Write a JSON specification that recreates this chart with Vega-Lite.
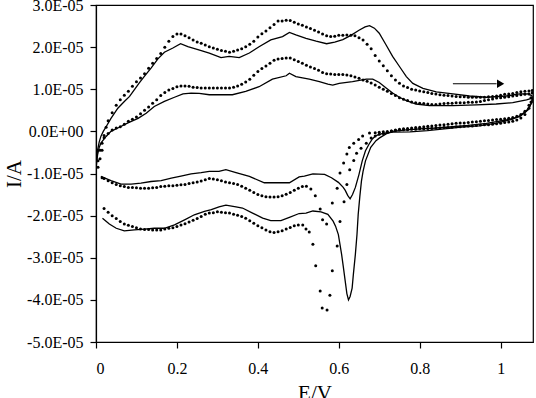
{
  "$schema": "https://vega.github.io/schema/vega-lite/v6.json",
  "autosize": {"type": "none"},
  "padding": {"left": 96, "top": 5, "right": 3, "bottom": 56},
  "width": 437,
  "height": 337,
  "config": {
    "view": {"stroke": "black", "strokeWidth": 1.2},
    "font": "Liberation Serif",
    "axis": {"grid": false, "domainColor": "black", "tickColor": "black", "labelColor": "black", "titleColor": "black", "labelFont": "Liberation Serif", "titleFont": "Liberation Serif", "labelFontSize": 16, "titleFontSize": 21, "titleFontWeight": "normal", "tickSize": 6, "domainWidth": 1.2, "tickWidth": 1.2}
  },
  "datasets": {
    "solid": [
      {"c":"S1","E":0.000,"I":-0.80e-5},{"c":"S1","E":0.002,"I":-0.60e-5},{"c":"S1","E":0.004,"I":-0.44e-5},{"c":"S1","E":0.008,"I":-0.25e-5},{"c":"S1","E":0.012,"I":-0.12e-5},{"c":"S1","E":0.018,"I":0.00e-5},{"c":"S1","E":0.025,"I":0.11e-5},{"c":"S1","E":0.037,"I":0.31e-5},{"c":"S1","E":0.054,"I":0.55e-5},{"c":"S1","E":0.070,"I":0.71e-5},{"c":"S1","E":0.083,"I":0.83e-5},{"c":"S1","E":0.095,"I":0.99e-5},{"c":"S1","E":0.107,"I":1.15e-5},{"c":"S1","E":0.119,"I":1.30e-5},{"c":"S1","E":0.136,"I":1.50e-5},{"c":"S1","E":0.153,"I":1.72e-5},{"c":"S1","E":0.169,"I":1.88e-5},{"c":"S1","E":0.190,"I":1.98e-5},{"c":"S1","E":0.209,"I":2.08e-5},{"c":"S1","E":0.227,"I":2.01e-5},{"c":"S1","E":0.252,"I":1.94e-5},{"c":"S1","E":0.280,"I":1.86e-5},{"c":"S1","E":0.309,"I":1.75e-5},{"c":"S1","E":0.329,"I":1.78e-5},{"c":"S1","E":0.354,"I":1.75e-5},{"c":"S1","E":0.379,"I":1.86e-5},{"c":"S1","E":0.403,"I":2.01e-5},{"c":"S1","E":0.432,"I":2.17e-5},{"c":"S1","E":0.461,"I":2.25e-5},{"c":"S1","E":0.478,"I":2.35e-5},{"c":"S1","E":0.494,"I":2.29e-5},{"c":"S1","E":0.519,"I":2.21e-5},{"c":"S1","E":0.544,"I":2.14e-5},{"c":"S1","E":0.570,"I":2.08e-5},{"c":"S1","E":0.590,"I":2.12e-5},{"c":"S1","E":0.610,"I":2.18e-5},{"c":"S1","E":0.630,"I":2.28e-5},{"c":"S1","E":0.650,"I":2.40e-5},{"c":"S1","E":0.665,"I":2.48e-5},{"c":"S1","E":0.676,"I":2.51e-5},{"c":"S1","E":0.688,"I":2.45e-5},{"c":"S1","E":0.700,"I":2.33e-5},{"c":"S1","E":0.717,"I":2.05e-5},{"c":"S1","E":0.733,"I":1.78e-5},{"c":"S1","E":0.750,"I":1.54e-5},{"c":"S1","E":0.767,"I":1.30e-5},{"c":"S1","E":0.783,"I":1.14e-5},{"c":"S1","E":0.808,"I":1.02e-5},{"c":"S1","E":0.841,"I":0.94e-5},{"c":"S1","E":0.882,"I":0.89e-5},{"c":"S1","E":0.923,"I":0.84e-5},{"c":"S1","E":0.965,"I":0.81e-5},{"c":"S1","E":1.014,"I":0.84e-5},{"c":"S1","E":1.047,"I":0.89e-5},{"c":"S1","E":1.068,"I":0.89e-5},{"c":"S1","E":1.078,"I":0.84e-5},
      {"c":"S1","E":1.078,"I":0.75e-5},{"c":"S1","E":1.072,"I":0.58e-5},{"c":"S1","E":1.068,"I":0.51e-5},{"c":"S1","E":1.047,"I":0.35e-5},{"c":"S1","E":1.014,"I":0.27e-5},{"c":"S1","E":0.965,"I":0.19e-5},{"c":"S1","E":0.920,"I":0.14e-5},{"c":"S1","E":0.882,"I":0.11e-5},{"c":"S1","E":0.840,"I":0.08e-5},{"c":"S1","E":0.800,"I":0.06e-5},{"c":"S1","E":0.760,"I":0.03e-5},{"c":"S1","E":0.733,"I":0.00e-5},{"c":"S1","E":0.717,"I":-0.06e-5},{"c":"S1","E":0.700,"I":-0.16e-5},{"c":"S1","E":0.692,"I":-0.22e-5},{"c":"S1","E":0.679,"I":-0.38e-5},{"c":"S1","E":0.666,"I":-0.70e-5},{"c":"S1","E":0.660,"I":-0.95e-5},{"c":"S1","E":0.656,"I":-1.18e-5},{"c":"S1","E":0.652,"I":-1.55e-5},{"c":"S1","E":0.648,"I":-1.97e-5},{"c":"S1","E":0.645,"I":-2.45e-5},{"c":"S1","E":0.641,"I":-2.92e-5},{"c":"S1","E":0.636,"I":-3.40e-5},{"c":"S1","E":0.633,"I":-3.72e-5},{"c":"S1","E":0.628,"I":-3.92e-5},{"c":"S1","E":0.624,"I":-4.00e-5},{"c":"S1","E":0.620,"I":-3.85e-5},{"c":"S1","E":0.616,"I":-3.56e-5},{"c":"S1","E":0.611,"I":-3.20e-5},{"c":"S1","E":0.607,"I":-2.92e-5},{"c":"S1","E":0.599,"I":-2.45e-5},{"c":"S1","E":0.592,"I":-2.25e-5},{"c":"S1","E":0.586,"I":-2.13e-5},{"c":"S1","E":0.573,"I":-1.97e-5},{"c":"S1","E":0.556,"I":-1.91e-5},{"c":"S1","E":0.536,"I":-1.89e-5},{"c":"S1","E":0.519,"I":-1.94e-5},{"c":"S1","E":0.502,"I":-1.95e-5},{"c":"S1","E":0.478,"I":-2.04e-5},{"c":"S1","E":0.457,"I":-2.12e-5},{"c":"S1","E":0.432,"I":-2.12e-5},{"c":"S1","E":0.412,"I":-2.06e-5},{"c":"S1","E":0.387,"I":-1.94e-5},{"c":"S1","E":0.362,"I":-1.82e-5},{"c":"S1","E":0.346,"I":-1.79e-5},{"c":"S1","E":0.321,"I":-1.75e-5},{"c":"S1","E":0.304,"I":-1.79e-5},{"c":"S1","E":0.285,"I":-1.86e-5},{"c":"S1","E":0.268,"I":-1.90e-5},{"c":"S1","E":0.243,"I":-1.98e-5},{"c":"S1","E":0.219,"I":-2.10e-5},{"c":"S1","E":0.194,"I":-2.22e-5},{"c":"S1","E":0.169,"I":-2.30e-5},{"c":"S1","E":0.144,"I":-2.30e-5},{"c":"S1","E":0.120,"I":-2.32e-5},{"c":"S1","E":0.095,"I":-2.34e-5},{"c":"S1","E":0.070,"I":-2.36e-5},{"c":"S1","E":0.050,"I":-2.30e-5},{"c":"S1","E":0.033,"I":-2.20e-5},{"c":"S1","E":0.016,"I":-2.06e-5},
      {"c":"S2","E":0.000,"I":-0.90e-5},{"c":"S2","E":0.004,"I":-0.55e-5},{"c":"S2","E":0.008,"I":-0.38e-5},{"c":"S2","E":0.012,"I":-0.28e-5},{"c":"S2","E":0.025,"I":-0.12e-5},{"c":"S2","E":0.037,"I":0.00e-5},{"c":"S2","E":0.054,"I":0.08e-5},{"c":"S2","E":0.079,"I":0.20e-5},{"c":"S2","E":0.104,"I":0.31e-5},{"c":"S2","E":0.124,"I":0.43e-5},{"c":"S2","E":0.144,"I":0.59e-5},{"c":"S2","E":0.169,"I":0.71e-5},{"c":"S2","E":0.194,"I":0.81e-5},{"c":"S2","E":0.215,"I":0.89e-5},{"c":"S2","E":0.235,"I":0.91e-5},{"c":"S2","E":0.255,"I":0.90e-5},{"c":"S2","E":0.280,"I":0.87e-5},{"c":"S2","E":0.337,"I":0.87e-5},{"c":"S2","E":0.370,"I":0.95e-5},{"c":"S2","E":0.403,"I":1.06e-5},{"c":"S2","E":0.436,"I":1.24e-5},{"c":"S2","E":0.470,"I":1.32e-5},{"c":"S2","E":0.478,"I":1.38e-5},{"c":"S2","E":0.494,"I":1.30e-5},{"c":"S2","E":0.527,"I":1.24e-5},{"c":"S2","E":0.552,"I":1.18e-5},{"c":"S2","E":0.573,"I":1.12e-5},{"c":"S2","E":0.585,"I":1.10e-5},{"c":"S2","E":0.601,"I":1.14e-5},{"c":"S2","E":0.634,"I":1.18e-5},{"c":"S2","E":0.668,"I":1.24e-5},{"c":"S2","E":0.684,"I":1.24e-5},{"c":"S2","E":0.700,"I":1.16e-5},{"c":"S2","E":0.717,"I":1.03e-5},{"c":"S2","E":0.733,"I":0.91e-5},{"c":"S2","E":0.750,"I":0.81e-5},{"c":"S2","E":0.767,"I":0.73e-5},{"c":"S2","E":0.791,"I":0.65e-5},{"c":"S2","E":0.824,"I":0.61e-5},{"c":"S2","E":0.882,"I":0.61e-5},{"c":"S2","E":0.940,"I":0.63e-5},{"c":"S2","E":0.989,"I":0.65e-5},{"c":"S2","E":1.030,"I":0.68e-5},{"c":"S2","E":1.064,"I":0.75e-5},{"c":"S2","E":1.078,"I":0.79e-5},
      {"c":"S2","E":1.078,"I":0.69e-5},{"c":"S2","E":1.064,"I":0.49e-5},{"c":"S2","E":1.047,"I":0.37e-5},{"c":"S2","E":1.030,"I":0.29e-5},{"c":"S2","E":0.988,"I":0.19e-5},{"c":"S2","E":0.946,"I":0.13e-5},{"c":"S2","E":0.903,"I":0.10e-5},{"c":"S2","E":0.861,"I":0.06e-5},{"c":"S2","E":0.819,"I":0.02e-5},{"c":"S2","E":0.776,"I":-0.01e-5},{"c":"S2","E":0.734,"I":-0.02e-5},{"c":"S2","E":0.709,"I":-0.05e-5},{"c":"S2","E":0.692,"I":-0.10e-5},{"c":"S2","E":0.683,"I":-0.18e-5},{"c":"S2","E":0.675,"I":-0.30e-5},{"c":"S2","E":0.666,"I":-0.46e-5},{"c":"S2","E":0.658,"I":-0.70e-5},{"c":"S2","E":0.650,"I":-1.02e-5},{"c":"S2","E":0.641,"I":-1.33e-5},{"c":"S2","E":0.634,"I":-1.50e-5},{"c":"S2","E":0.628,"I":-1.60e-5},{"c":"S2","E":0.622,"I":-1.52e-5},{"c":"S2","E":0.616,"I":-1.40e-5},{"c":"S2","E":0.611,"I":-1.33e-5},{"c":"S2","E":0.599,"I":-1.21e-5},{"c":"S2","E":0.582,"I":-1.10e-5},{"c":"S2","E":0.565,"I":-1.02e-5},{"c":"S2","E":0.536,"I":-1.01e-5},{"c":"S2","E":0.515,"I":-1.06e-5},{"c":"S2","E":0.502,"I":-1.08e-5},{"c":"S2","E":0.478,"I":-1.22e-5},{"c":"S2","E":0.440,"I":-1.22e-5},{"c":"S2","E":0.416,"I":-1.22e-5},{"c":"S2","E":0.379,"I":-1.07e-5},{"c":"S2","E":0.346,"I":-0.98e-5},{"c":"S2","E":0.321,"I":-0.91e-5},{"c":"S2","E":0.304,"I":-0.95e-5},{"c":"S2","E":0.280,"I":-0.95e-5},{"c":"S2","E":0.260,"I":-0.98e-5},{"c":"S2","E":0.235,"I":-1.01e-5},{"c":"S2","E":0.210,"I":-1.06e-5},{"c":"S2","E":0.186,"I":-1.11e-5},{"c":"S2","E":0.161,"I":-1.17e-5},{"c":"S2","E":0.136,"I":-1.19e-5},{"c":"S2","E":0.111,"I":-1.23e-5},{"c":"S2","E":0.087,"I":-1.25e-5},{"c":"S2","E":0.062,"I":-1.25e-5},{"c":"S2","E":0.037,"I":-1.17e-5},{"c":"S2","E":0.012,"I":-1.07e-5}
    ],
    "dotted": [
      {"E":0.005,"I":-0.85e-5},{"E":0.010,"I":-0.65e-5},{"E":0.015,"I":-0.45e-5},{"E":0.020,"I":-0.10e-5},{"E":0.025,"I":0.10e-5},{"E":0.030,"I":0.25e-5},{"E":0.040,"I":0.44e-5},{"E":0.050,"I":0.62e-5},{"E":0.060,"I":0.75e-5},{"E":0.070,"I":0.86e-5},{"E":0.080,"I":0.95e-5},{"E":0.090,"I":1.07e-5},{"E":0.100,"I":1.18e-5},{"E":0.110,"I":1.27e-5},{"E":0.120,"I":1.37e-5},{"E":0.130,"I":1.50e-5},{"E":0.140,"I":1.62e-5},{"E":0.150,"I":1.73e-5},{"E":0.160,"I":1.85e-5},{"E":0.170,"I":2.00e-5},{"E":0.180,"I":2.14e-5},{"E":0.190,"I":2.25e-5},{"E":0.200,"I":2.31e-5},{"E":0.210,"I":2.31e-5},{"E":0.220,"I":2.27e-5},{"E":0.230,"I":2.22e-5},{"E":0.240,"I":2.17e-5},{"E":0.250,"I":2.12e-5},{"E":0.260,"I":2.09e-5},{"E":0.270,"I":2.05e-5},{"E":0.280,"I":2.01e-5},{"E":0.290,"I":1.98e-5},{"E":0.300,"I":1.95e-5},{"E":0.310,"I":1.92e-5},{"E":0.320,"I":1.90e-5},{"E":0.330,"I":1.88e-5},{"E":0.340,"I":1.90e-5},{"E":0.350,"I":1.93e-5},{"E":0.360,"I":1.96e-5},{"E":0.370,"I":2.01e-5},{"E":0.380,"I":2.07e-5},{"E":0.390,"I":2.14e-5},{"E":0.400,"I":2.24e-5},{"E":0.410,"I":2.32e-5},{"E":0.420,"I":2.38e-5},{"E":0.430,"I":2.46e-5},{"E":0.440,"I":2.54e-5},{"E":0.450,"I":2.62e-5},{"E":0.460,"I":2.62e-5},{"E":0.470,"I":2.64e-5},{"E":0.480,"I":2.63e-5},{"E":0.490,"I":2.59e-5},{"E":0.500,"I":2.55e-5},{"E":0.510,"I":2.52e-5},{"E":0.520,"I":2.48e-5},{"E":0.530,"I":2.44e-5},{"E":0.540,"I":2.40e-5},{"E":0.550,"I":2.36e-5},{"E":0.560,"I":2.31e-5},{"E":0.570,"I":2.27e-5},{"E":0.580,"I":2.25e-5},{"E":0.590,"I":2.26e-5},{"E":0.600,"I":2.28e-5},{"E":0.610,"I":2.28e-5},{"E":0.620,"I":2.29e-5},{"E":0.630,"I":2.28e-5},{"E":0.640,"I":2.27e-5},{"E":0.650,"I":2.22e-5},{"E":0.660,"I":2.17e-5},{"E":0.670,"I":2.07e-5},{"E":0.680,"I":1.96e-5},{"E":0.690,"I":1.80e-5},{"E":0.700,"I":1.67e-5},{"E":0.710,"I":1.56e-5},{"E":0.720,"I":1.44e-5},{"E":0.730,"I":1.32e-5},{"E":0.740,"I":1.22e-5},{"E":0.750,"I":1.14e-5},{"E":0.760,"I":1.08e-5},{"E":0.770,"I":1.04e-5},{"E":0.780,"I":1.00e-5},{"E":0.790,"I":0.98e-5},{"E":0.800,"I":0.96e-5},{"E":0.810,"I":0.94e-5},{"E":0.820,"I":0.92e-5},{"E":0.830,"I":0.90e-5},{"E":0.840,"I":0.89e-5},{"E":0.850,"I":0.87e-5},{"E":0.860,"I":0.86e-5},{"E":0.870,"I":0.85e-5},{"E":0.880,"I":0.84e-5},{"E":0.890,"I":0.83e-5},{"E":0.900,"I":0.82e-5},{"E":0.910,"I":0.82e-5},{"E":0.920,"I":0.81e-5},{"E":0.930,"I":0.81e-5},{"E":0.940,"I":0.81e-5},{"E":0.950,"I":0.81e-5},{"E":0.960,"I":0.81e-5},{"E":0.970,"I":0.82e-5},{"E":0.980,"I":0.83e-5},{"E":0.990,"I":0.84e-5},{"E":1.000,"I":0.86e-5},{"E":1.010,"I":0.88e-5},{"E":1.020,"I":0.89e-5},{"E":1.030,"I":0.90e-5},{"E":1.040,"I":0.92e-5},{"E":1.050,"I":0.94e-5},{"E":1.060,"I":0.95e-5},{"E":1.070,"I":0.96e-5},{"E":1.078,"I":0.97e-5},
      {"E":1.075,"I":0.80e-5},{"E":1.070,"I":0.62e-5},{"E":1.060,"I":0.48e-5},{"E":1.050,"I":0.40e-5},{"E":1.040,"I":0.36e-5},{"E":1.030,"I":0.33e-5},{"E":1.020,"I":0.31e-5},{"E":1.010,"I":0.30e-5},{"E":1.000,"I":0.29e-5},{"E":0.990,"I":0.28e-5},{"E":0.980,"I":0.27e-5},{"E":0.970,"I":0.26e-5},{"E":0.960,"I":0.25e-5},{"E":0.950,"I":0.24e-5},{"E":0.940,"I":0.23e-5},{"E":0.930,"I":0.22e-5},{"E":0.920,"I":0.21e-5},{"E":0.910,"I":0.20e-5},{"E":0.900,"I":0.20e-5},{"E":0.890,"I":0.19e-5},{"E":0.880,"I":0.18e-5},{"E":0.870,"I":0.17e-5},{"E":0.860,"I":0.16e-5},{"E":0.850,"I":0.15e-5},{"E":0.840,"I":0.14e-5},{"E":0.830,"I":0.13e-5},{"E":0.820,"I":0.12e-5},{"E":0.810,"I":0.11e-5},{"E":0.800,"I":0.10e-5},{"E":0.790,"I":0.09e-5},{"E":0.780,"I":0.08e-5},{"E":0.770,"I":0.07e-5},{"E":0.760,"I":0.06e-5},{"E":0.750,"I":0.05e-5},{"E":0.740,"I":0.03e-5},{"E":0.730,"I":0.01e-5},{"E":0.720,"I":-0.02e-5},{"E":0.710,"I":-0.05e-5},{"E":0.700,"I":-0.07e-5},{"E":0.690,"I":-0.11e-5},{"E":0.680,"I":-0.16e-5},{"E":0.668,"I":-0.28e-5},{"E":0.655,"I":-0.40e-5},{"E":0.644,"I":-0.52e-5},{"E":0.637,"I":-0.69e-5},{"E":0.627,"I":-0.91e-5},{"E":0.620,"I":-1.26e-5},{"E":0.613,"I":-1.67e-5},{"E":0.603,"I":-2.14e-5},{"E":0.596,"I":-2.72e-5},{"E":0.584,"I":-3.31e-5},{"E":0.578,"I":-3.89e-5},{"E":0.571,"I":-4.24e-5},{"E":0.559,"I":-4.19e-5},{"E":0.554,"I":-3.79e-5},{"E":0.543,"I":-3.19e-5},{"E":0.536,"I":-2.68e-5},{"E":0.527,"I":-2.39e-5},{"E":0.519,"I":-2.32e-5},{"E":0.511,"I":-2.22e-5},{"E":0.500,"I":-2.22e-5},{"E":0.490,"I":-2.24e-5},{"E":0.480,"I":-2.28e-5},{"E":0.470,"I":-2.32e-5},{"E":0.460,"I":-2.36e-5},{"E":0.450,"I":-2.38e-5},{"E":0.440,"I":-2.40e-5},{"E":0.430,"I":-2.38e-5},{"E":0.420,"I":-2.34e-5},{"E":0.410,"I":-2.29e-5},{"E":0.400,"I":-2.24e-5},{"E":0.390,"I":-2.18e-5},{"E":0.380,"I":-2.12e-5},{"E":0.370,"I":-2.06e-5},{"E":0.360,"I":-2.02e-5},{"E":0.350,"I":-1.99e-5},{"E":0.340,"I":-1.97e-5},{"E":0.330,"I":-1.94e-5},{"E":0.320,"I":-1.93e-5},{"E":0.310,"I":-1.92e-5},{"E":0.300,"I":-1.91e-5},{"E":0.290,"I":-1.93e-5},{"E":0.280,"I":-1.94e-5},{"E":0.270,"I":-1.97e-5},{"E":0.260,"I":-2.02e-5},{"E":0.250,"I":-2.07e-5},{"E":0.240,"I":-2.11e-5},{"E":0.230,"I":-2.15e-5},{"E":0.220,"I":-2.19e-5},{"E":0.210,"I":-2.22e-5},{"E":0.200,"I":-2.26e-5},{"E":0.190,"I":-2.29e-5},{"E":0.180,"I":-2.30e-5},{"E":0.170,"I":-2.32e-5},{"E":0.160,"I":-2.34e-5},{"E":0.150,"I":-2.34e-5},{"E":0.140,"I":-2.34e-5},{"E":0.130,"I":-2.33e-5},{"E":0.120,"I":-2.33e-5},{"E":0.110,"I":-2.32e-5},{"E":0.100,"I":-2.29e-5},{"E":0.090,"I":-2.26e-5},{"E":0.080,"I":-2.23e-5},{"E":0.070,"I":-2.20e-5},{"E":0.060,"I":-2.14e-5},{"E":0.050,"I":-2.07e-5},{"E":0.040,"I":-2.00e-5},{"E":0.030,"I":-1.92e-5},{"E":0.020,"I":-1.83e-5},
      {"E":0.005,"I":-0.70e-5},{"E":0.010,"I":-0.45e-5},{"E":0.015,"I":-0.28e-5},{"E":0.020,"I":-0.15e-5},{"E":0.030,"I":-0.05e-5},{"E":0.040,"I":0.03e-5},{"E":0.050,"I":0.08e-5},{"E":0.060,"I":0.11e-5},{"E":0.070,"I":0.17e-5},{"E":0.080,"I":0.24e-5},{"E":0.090,"I":0.29e-5},{"E":0.100,"I":0.34e-5},{"E":0.110,"I":0.42e-5},{"E":0.120,"I":0.50e-5},{"E":0.130,"I":0.58e-5},{"E":0.140,"I":0.67e-5},{"E":0.150,"I":0.75e-5},{"E":0.160,"I":0.85e-5},{"E":0.170,"I":0.92e-5},{"E":0.180,"I":0.98e-5},{"E":0.190,"I":1.02e-5},{"E":0.200,"I":1.06e-5},{"E":0.210,"I":1.08e-5},{"E":0.220,"I":1.08e-5},{"E":0.230,"I":1.07e-5},{"E":0.240,"I":1.05e-5},{"E":0.250,"I":1.04e-5},{"E":0.260,"I":1.03e-5},{"E":0.270,"I":1.03e-5},{"E":0.280,"I":1.03e-5},{"E":0.290,"I":1.03e-5},{"E":0.300,"I":1.03e-5},{"E":0.310,"I":1.03e-5},{"E":0.320,"I":1.03e-5},{"E":0.330,"I":1.03e-5},{"E":0.340,"I":1.05e-5},{"E":0.350,"I":1.08e-5},{"E":0.360,"I":1.12e-5},{"E":0.370,"I":1.17e-5},{"E":0.380,"I":1.24e-5},{"E":0.390,"I":1.33e-5},{"E":0.400,"I":1.42e-5},{"E":0.410,"I":1.49e-5},{"E":0.420,"I":1.55e-5},{"E":0.430,"I":1.62e-5},{"E":0.440,"I":1.69e-5},{"E":0.450,"I":1.72e-5},{"E":0.460,"I":1.73e-5},{"E":0.470,"I":1.74e-5},{"E":0.480,"I":1.74e-5},{"E":0.490,"I":1.70e-5},{"E":0.500,"I":1.66e-5},{"E":0.510,"I":1.62e-5},{"E":0.520,"I":1.57e-5},{"E":0.530,"I":1.53e-5},{"E":0.540,"I":1.49e-5},{"E":0.550,"I":1.45e-5},{"E":0.560,"I":1.40e-5},{"E":0.570,"I":1.37e-5},{"E":0.580,"I":1.36e-5},{"E":0.590,"I":1.35e-5},{"E":0.600,"I":1.35e-5},{"E":0.610,"I":1.35e-5},{"E":0.620,"I":1.34e-5},{"E":0.630,"I":1.32e-5},{"E":0.640,"I":1.29e-5},{"E":0.650,"I":1.26e-5},{"E":0.660,"I":1.22e-5},{"E":0.670,"I":1.19e-5},{"E":0.680,"I":1.15e-5},{"E":0.690,"I":1.10e-5},{"E":0.700,"I":1.05e-5},{"E":0.710,"I":1.00e-5},{"E":0.720,"I":0.95e-5},{"E":0.730,"I":0.90e-5},{"E":0.740,"I":0.85e-5},{"E":0.750,"I":0.80e-5},{"E":0.760,"I":0.76e-5},{"E":0.770,"I":0.73e-5},{"E":0.780,"I":0.70e-5},{"E":0.790,"I":0.68e-5},{"E":0.800,"I":0.67e-5},{"E":0.810,"I":0.66e-5},{"E":0.820,"I":0.65e-5},{"E":0.830,"I":0.64e-5},{"E":0.840,"I":0.64e-5},{"E":0.850,"I":0.65e-5},{"E":0.860,"I":0.66e-5},{"E":0.870,"I":0.67e-5},{"E":0.880,"I":0.67e-5},{"E":0.890,"I":0.68e-5},{"E":0.900,"I":0.68e-5},{"E":0.910,"I":0.68e-5},{"E":0.920,"I":0.69e-5},{"E":0.930,"I":0.69e-5},{"E":0.940,"I":0.70e-5},{"E":0.950,"I":0.71e-5},{"E":0.960,"I":0.73e-5},{"E":0.970,"I":0.75e-5},{"E":0.980,"I":0.77e-5},{"E":0.990,"I":0.79e-5},{"E":1.000,"I":0.80e-5},{"E":1.010,"I":0.81e-5},{"E":1.020,"I":0.82e-5},{"E":1.030,"I":0.84e-5},{"E":1.040,"I":0.85e-5},{"E":1.050,"I":0.87e-5},{"E":1.060,"I":0.88e-5},{"E":1.070,"I":0.89e-5},{"E":1.078,"I":0.91e-5},
      {"E":1.075,"I":0.70e-5},{"E":1.070,"I":0.55e-5},{"E":1.060,"I":0.40e-5},{"E":1.050,"I":0.32e-5},{"E":1.040,"I":0.27e-5},{"E":1.030,"I":0.24e-5},{"E":1.020,"I":0.22e-5},{"E":1.010,"I":0.21e-5},{"E":1.000,"I":0.19e-5},{"E":0.990,"I":0.18e-5},{"E":0.980,"I":0.17e-5},{"E":0.970,"I":0.16e-5},{"E":0.960,"I":0.16e-5},{"E":0.950,"I":0.15e-5},{"E":0.940,"I":0.14e-5},{"E":0.930,"I":0.13e-5},{"E":0.920,"I":0.13e-5},{"E":0.910,"I":0.12e-5},{"E":0.900,"I":0.11e-5},{"E":0.890,"I":0.11e-5},{"E":0.880,"I":0.10e-5},{"E":0.870,"I":0.09e-5},{"E":0.860,"I":0.09e-5},{"E":0.850,"I":0.08e-5},{"E":0.840,"I":0.08e-5},{"E":0.830,"I":0.07e-5},{"E":0.820,"I":0.07e-5},{"E":0.810,"I":0.06e-5},{"E":0.800,"I":0.06e-5},{"E":0.790,"I":0.05e-5},{"E":0.780,"I":0.05e-5},{"E":0.770,"I":0.04e-5},{"E":0.760,"I":0.04e-5},{"E":0.750,"I":0.03e-5},{"E":0.740,"I":0.02e-5},{"E":0.730,"I":0.01e-5},{"E":0.720,"I":0.00e-5},{"E":0.710,"I":-0.01e-5},{"E":0.700,"I":-0.02e-5},{"E":0.690,"I":-0.03e-5},{"E":0.676,"I":-0.04e-5},{"E":0.659,"I":-0.11e-5},{"E":0.649,"I":-0.19e-5},{"E":0.637,"I":-0.28e-5},{"E":0.626,"I":-0.38e-5},{"E":0.620,"I":-0.54e-5},{"E":0.612,"I":-0.75e-5},{"E":0.603,"I":-0.99e-5},{"E":0.596,"I":-1.35e-5},{"E":0.584,"I":-1.70e-5},{"E":0.570,"I":-2.20e-5},{"E":0.560,"I":-2.10e-5},{"E":0.554,"I":-1.84e-5},{"E":0.542,"I":-1.53e-5},{"E":0.531,"I":-1.37e-5},{"E":0.520,"I":-1.30e-5},{"E":0.510,"I":-1.31e-5},{"E":0.500,"I":-1.35e-5},{"E":0.490,"I":-1.40e-5},{"E":0.480,"I":-1.45e-5},{"E":0.470,"I":-1.49e-5},{"E":0.460,"I":-1.53e-5},{"E":0.450,"I":-1.55e-5},{"E":0.440,"I":-1.56e-5},{"E":0.430,"I":-1.56e-5},{"E":0.420,"I":-1.55e-5},{"E":0.410,"I":-1.53e-5},{"E":0.400,"I":-1.50e-5},{"E":0.390,"I":-1.45e-5},{"E":0.380,"I":-1.40e-5},{"E":0.370,"I":-1.35e-5},{"E":0.360,"I":-1.30e-5},{"E":0.350,"I":-1.26e-5},{"E":0.340,"I":-1.24e-5},{"E":0.330,"I":-1.22e-5},{"E":0.320,"I":-1.20e-5},{"E":0.310,"I":-1.17e-5},{"E":0.300,"I":-1.15e-5},{"E":0.290,"I":-1.13e-5},{"E":0.280,"I":-1.12e-5},{"E":0.270,"I":-1.15e-5},{"E":0.260,"I":-1.18e-5},{"E":0.250,"I":-1.20e-5},{"E":0.240,"I":-1.22e-5},{"E":0.230,"I":-1.24e-5},{"E":0.220,"I":-1.26e-5},{"E":0.210,"I":-1.27e-5},{"E":0.200,"I":-1.28e-5},{"E":0.190,"I":-1.29e-5},{"E":0.180,"I":-1.29e-5},{"E":0.170,"I":-1.30e-5},{"E":0.160,"I":-1.31e-5},{"E":0.150,"I":-1.33e-5},{"E":0.140,"I":-1.34e-5},{"E":0.130,"I":-1.35e-5},{"E":0.120,"I":-1.35e-5},{"E":0.110,"I":-1.35e-5},{"E":0.100,"I":-1.34e-5},{"E":0.090,"I":-1.33e-5},{"E":0.080,"I":-1.33e-5},{"E":0.070,"I":-1.31e-5},{"E":0.060,"I":-1.29e-5},{"E":0.050,"I":-1.26e-5},{"E":0.040,"I":-1.22e-5},{"E":0.030,"I":-1.17e-5},{"E":0.020,"I":-1.12e-5},{"E":0.015,"I":-1.10e-5}
    ],
    "arrow": [{"E":0.882,"E2":0.99,"I":1.13e-5,"Ehead":1.0}]
  },
  "encoding": {
    "x": {"field": "E", "type": "quantitative", "scale": {"domain": [0, 1.08], "nice": false, "zero": false}, "axis": {"title": "E/V", "values": [0, 0.2, 0.4, 0.6, 0.8, 1], "format": "~g", "labelPadding": 12, "titlePadding": 6}},
    "y": {"field": "I", "type": "quantitative", "scale": {"domain": [-0.00005, 0.00003], "nice": false, "zero": false}, "axis": {"title": "I/A", "values": [-0.00005, -0.00004, -0.00003, -0.00002, -0.00001, 0, 0.00001, 0.00002, 0.00003], "labelExpr": "datum.value == 0 ? '0.0E+00' : (datum.value < 0 ? '-' : '') + format(abs(datum.value) * 100000, '.1f') + 'E-05'", "labelPadding": 7, "titlePadding": 2}}
  },
  "layer": [
    {
      "data": {"name": "solid"},
      "mark": {"type": "line", "color": "black", "strokeWidth": 1.3, "clip": true},
      "encoding": {"detail": {"field": "c"}, "order": {"value": null}}
    },
    {
      "data": {"name": "dotted"},
      "mark": {"type": "circle", "color": "black", "size": 9, "opacity": 1, "clip": true}
    },
    {
      "data": {"name": "arrow"},
      "mark": {"type": "rule", "color": "black", "strokeWidth": 1.2},
      "encoding": {"x2": {"field": "E2"}}
    },
    {
      "data": {"name": "arrow"},
      "mark": {"type": "point", "shape": "triangle-right", "filled": true, "color": "black", "size": 70, "opacity": 1},
      "encoding": {"x": {"field": "Ehead", "type": "quantitative"}}
    }
  ]
}
